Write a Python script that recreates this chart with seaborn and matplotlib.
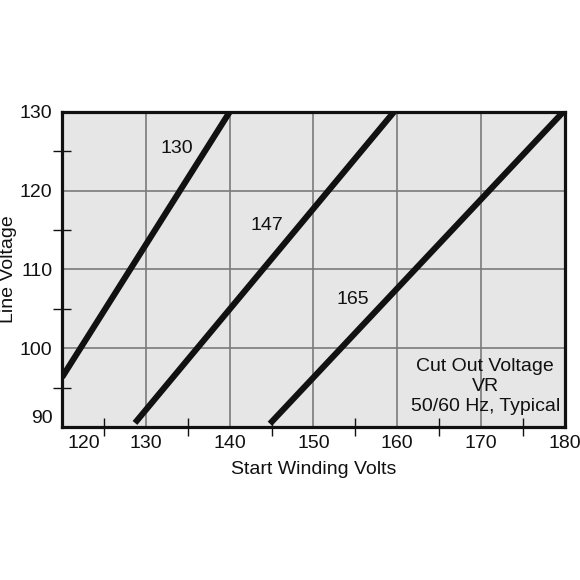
import numpy as np
import pandas as pd
import matplotlib
matplotlib.use("Agg")
import matplotlib.pyplot as plt
import matplotlib.transforms as mtransforms
import seaborn as sns

# cut-out voltage curves (end points)
cutouts = ["130", "147", "165"]
start_volts = [[120.0, 140.0], [128.7, 159.6], [144.8, 179.8]]
line_volts = [[96.3, 130.0], [90.5, 130.0], [90.4, 130.0]]

label_x = [133.7, 144.4, 154.7]
label_y = [125.4, 115.6, 106.2]

x_ticks = [120, 130, 140, 150, 160, 170, 180]
y_ticks = [90, 100, 110, 120, 130]

rows = []
for name, xs, ys in zip(cutouts, start_volts, line_volts):
    for xv, yv in zip(xs, ys):
        rows.append({"cutout": name, "start": xv, "line": yv})
df = pd.DataFrame(rows)

sns.set_theme(style="white")
plt.rcParams["font.family"] = ["Liberation Sans", "DejaVu Sans"]

fs = 14
fig = plt.figure(figsize=(5.8, 5.8), dpi=100)
ax = fig.add_axes([0.107, 0.264, 0.867, 0.543])
ax.set_facecolor("#e6e6e6")

sns.lineplot(data=df, x="start", y="line", units="cutout", estimator=None,
             color="#111111", lw=4.4, solid_capstyle="butt", ax=ax, legend=False)

for t, xv, yv in zip(cutouts, label_x, label_y):
    ax.text(xv, yv, t, fontsize=fs, ha="center", va="center", color="#111111")

ax.text(170.5, 95.1, "Cut Out Voltage\nVR\n50/60 Hz, Typical", fontsize=fs,
        ha="center", va="center", color="#111111", linespacing=1.25)

ax.set_xlim(120, 180)
ax.set_ylim(90, 130)
ax.set_xticks(x_ticks)
ax.set_yticks(y_ticks)
ax.set_xticks(np.arange(125, 180, 10), minor=True)
ax.set_yticks(np.arange(95, 130, 10), minor=True)

ax.grid(True, which="major", color="#7a7a7a", lw=1.2)
ax.set_axisbelow(True)

ax.tick_params(which="major", length=0, labelsize=fs, labelcolor="#111111")
ax.tick_params(axis="x", which="major", pad=6)
ax.tick_params(axis="y", which="major", pad=7)
ax.tick_params(which="minor", direction="inout", length=13, width=1.0,
               color="#111111", bottom=True, left=True)

for s in ax.spines.values():
    s.set_linewidth(2.3)
    s.set_color("#111111")

ax.set_xlabel("Start Winding Volts", fontsize=fs, color="#111111")
ax.set_ylabel("Line Voltage", fontsize=fs, color="#111111")
ax.xaxis.set_label_coords(0.5, -0.107)
ax.yaxis.set_label_coords(-0.0895, 0.5)

# nudge the corner labels so they don't collide
first_x = ax.xaxis.get_major_ticks()[0].label1
first_x.set_transform(first_x.get_transform() +
                      mtransforms.ScaledTranslation(0.22, 0, fig.dpi_scale_trans))
first_y = ax.yaxis.get_major_ticks()[0].label1
first_y.set_transform(first_y.get_transform() +
                      mtransforms.ScaledTranslation(0, 0.10, fig.dpi_scale_trans))

fig.savefig("out.png", dpi=100, facecolor="white")
